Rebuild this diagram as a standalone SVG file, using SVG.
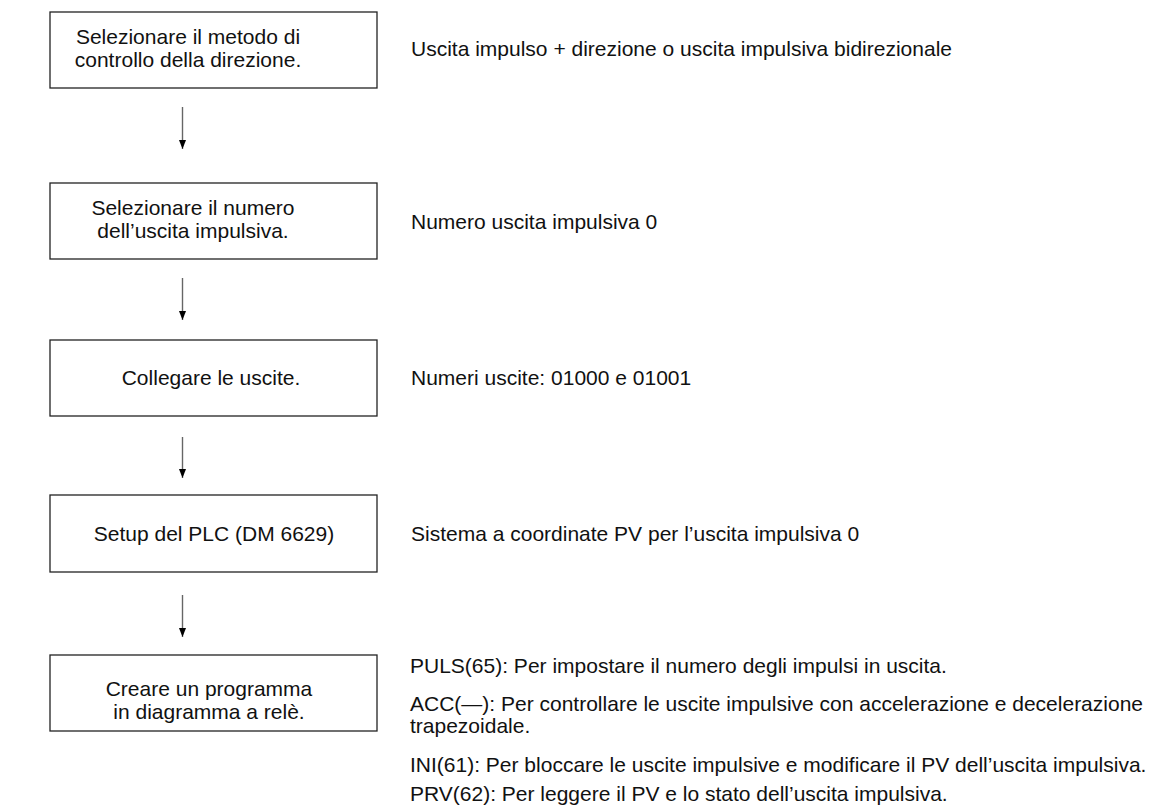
<svg xmlns="http://www.w3.org/2000/svg" width="1156" height="805" viewBox="0 0 1156 805">
<style>
.box{fill:#fff;stroke:#222;stroke-width:1.3}
.t{font-family:"Liberation Sans",Arial,sans-serif;font-size:21px;fill:#111}
.c{text-anchor:middle}
.conn{stroke:#666;stroke-width:1.4;fill:none}
</style>
<defs>
<marker id="ah" markerWidth="9" markerHeight="7" refX="9" refY="3.5" orient="auto" markerUnits="userSpaceOnUse" viewBox="0 0 9 7">
<path d="M0,0 L9,3.5 L0,7 Z" fill="#000"/>
</marker>
</defs>
<rect width="1156" height="805" fill="#fff"/>
<g id="connectors">
<line class="conn" x1="182.5" y1="107" x2="182.5" y2="149" marker-end="url(#ah)"/>
<line class="conn" x1="182.5" y1="278" x2="182.5" y2="320" marker-end="url(#ah)"/>
<line class="conn" x1="182.5" y1="437" x2="182.5" y2="478" marker-end="url(#ah)"/>
<line class="conn" x1="182.5" y1="595" x2="182.5" y2="637" marker-end="url(#ah)"/>
</g>
<g id="node1">
<rect class="box" x="50" y="12" width="327" height="76"/>
<text class="t c" x="188" y="44">Selezionare il metodo di</text>
<text class="t c" x="188" y="67">controllo della direzione.</text>
</g>
<g id="node2">
<rect class="box" x="50" y="183" width="327" height="76"/>
<text class="t c" x="193" y="215">Selezionare il numero</text>
<text class="t c" x="193" y="238">dell’uscita impulsiva.</text>
</g>
<g id="node3">
<rect class="box" x="50" y="340" width="327" height="76"/>
<text class="t c" x="211" y="385">Collegare le uscite.</text>
</g>
<g id="node4">
<rect class="box" x="50" y="495" width="327" height="77"/>
<text class="t c" x="214" y="541">Setup del PLC (DM 6629)</text>
</g>
<g id="node5">
<rect class="box" x="50" y="655" width="327" height="76"/>
<text class="t c" x="209" y="696">Creare un programma</text>
<text class="t c" x="209" y="719">in diagramma a relè.</text>
</g>
<g id="notes">
<text class="t" x="411" y="56">Uscita impulso + direzione o uscita impulsiva bidirezionale</text>
<text class="t" x="411" y="229">Numero uscita impulsiva 0</text>
<text class="t" x="411" y="385">Numeri uscite: 01000 e 01001</text>
<text class="t" x="411" y="541">Sistema a coordinate PV per l’uscita impulsiva 0</text>
<text class="t" x="410" y="673">PULS(65): Per impostare il numero degli impulsi in uscita.</text>
<text class="t" x="410" y="711">ACC(—): Per controllare le uscite impulsive con accelerazione e decelerazione</text>
<text class="t" x="410" y="733">trapezoidale.</text>
<text class="t" x="410" y="772">INI(61): Per bloccare le uscite impulsive e modificare il PV dell’uscita impulsiva.</text>
<text class="t" x="410" y="801">PRV(62): Per leggere il PV e lo stato dell’uscita impulsiva.</text>
</g>
</svg>
